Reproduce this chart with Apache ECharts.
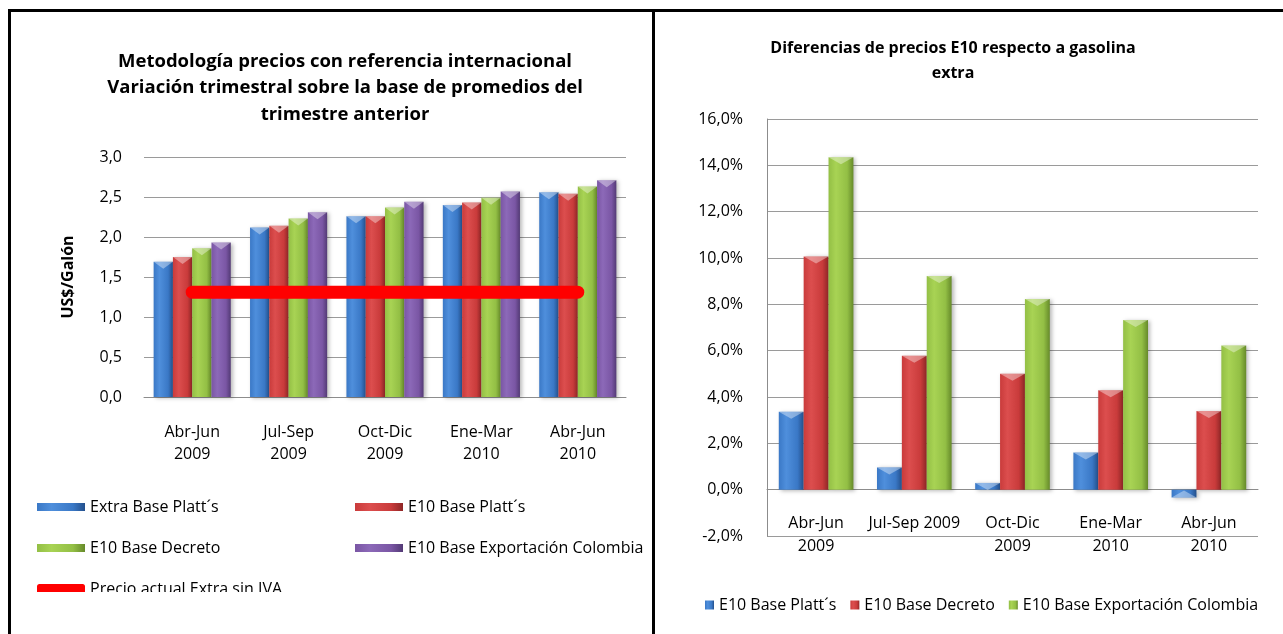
<!DOCTYPE html>
<html>
<head>
<meta charset="utf-8">
<script src="https://cdn.jsdelivr.net/npm/echarts@6/dist/echarts.min.js"></script>
<style>
  html, body { margin: 0; padding: 0; background: #fff; }
  body { width: 1283px; height: 634px; position: relative; overflow: hidden; }
  #precios { position: absolute; left: 0; top: 0; width: 652px; height: 592px; }
  #diferencias { position: absolute; left: 655px; top: 0; width: 628px; height: 634px; }
  .rule { position: absolute; background: #000; }
</style>
</head>
<body>
<div id="precios"></div>
<div id="diferencias"></div>
<div class="rule" style="left:8px;top:9px;width:1275px;height:3px"></div>
<div class="rule" style="left:8px;top:9px;width:3px;height:625px"></div>
<div class="rule" style="left:652px;top:9px;width:3px;height:625px"></div>
<script>
// ---- Precios trimestrales (US$/galón) ----
const trimestres = ['Abr-Jun\n2009', 'Jul-Sep\n2009', 'Oct-Dic\n2009', 'Ene-Mar\n2010', 'Abr-Jun\n2010'];
const extraPlatts = [1.69, 2.12, 2.26, 2.40, 2.56];
const e10Platts = [1.75, 2.14, 2.26, 2.43, 2.54];
const e10Decreto = [1.86, 2.23, 2.37, 2.49, 2.63];
const e10Exportacion = [1.93, 2.31, 2.44, 2.57, 2.71];
const precioActualSinIVA = [1.31, 1.31, 1.31, 1.31, 1.31];
const ticksPrecio = [0, 0.5, 1.0, 1.5, 2.0, 2.5, 3.0];

// ---- Diferencias E10 vs. gasolina extra (%) ----
const trimestresDif = ['Abr-Jun\n2009', 'Jul-Sep 2009', 'Oct-Dic\n2009', 'Ene-Mar\n2010', 'Abr-Jun\n2010'];
const difPlatts = [3.36, 0.96, 0.29, 1.60, -0.34];
const difDecreto = [10.07, 5.78, 5.00, 4.29, 3.40];
const difExportacion = [14.35, 9.22, 8.23, 7.32, 6.22];
const ticksDif = [-2, 0, 2, 4, 6, 8, 10, 12, 14, 16];

const FONT = 'Open Sans';
const coma = (v, d) => v.toFixed(d).replace('.', ',');

// cylinder-like horizontal shading for the bars
function shade(edge, light, dark) {
  return new echarts.graphic.LinearGradient(0, 0, 1, 0, [
    { offset: 0, color: edge },
    { offset: 0.3, color: light },
    { offset: 0.75, color: edge },
    { offset: 1, color: dark }
  ]);
}
const AZUL = shade('#3a78c6', '#4f8fdc', '#24508c');
const ROJO = shade('#c93b3b', '#dc4e4e', '#8e2626');
const VERDE = shade('#93bf45', '#a8d354', '#668a2a');
const MORADO = shade('#7a56a4', '#8c69b8', '#533a75');
const sombra = { shadowColor: 'rgba(0,0,0,0.28)', shadowBlur: 4, shadowOffsetX: 2, shadowOffsetY: 1 };

function barra(name, data, color, gap) {
  return {
    name, type: 'bar', data, barGap: '0%', barCategoryGap: gap,
    itemStyle: Object.assign({ color }, sombra),
    emphasis: { disabled: true }
  };
}
// light bevel chevron on the top of every bar
function bisel(name, data, gap) {
  return {
    name, type: 'pictorialBar', data, barGap: '0%', barCategoryGap: gap,
    symbol: 'path://M0,0 L20,0 L10,7 Z', symbolSize: ['100%', 7], symbolPosition: 'end',
    symbolClip: false, z: 3, silent: true,
    itemStyle: { color: 'rgba(255,255,255,0.38)' },
    emphasis: { disabled: true }
  };
}

const textoLeyenda = { fontFamily: FONT, fontSize: 16, color: '#000', lineHeight: 18 };
function leyenda(name, left, top, extra, alto) {
  return {
    left, top, padding: 0, itemWidth: 48, itemHeight: alto || 8, itemGap: 0,
    textStyle: textoLeyenda,
    data: [Object.assign({ name, icon: 'rect' }, extra || {})]
  };
}

// ---------- Gráfico izquierdo ----------
const precios = echarts.init(document.getElementById('precios'), null, { renderer: 'canvas' });
precios.setOption({
  animation: false,
  textStyle: { fontFamily: FONT },
  title: {
    text: 'Metodología precios con referencia internacional\nVariación trimestral sobre la base de promedios del\ntrimestre anterior',
    left: 340, top: 43, textAlign: 'center',
    textStyle: { fontFamily: FONT, fontSize: 18.5, fontWeight: 'bold', color: '#000', lineHeight: 26.5 }
  },
  grid: { left: 144, top: 157, width: 482, height: 240, containLabel: false },
  xAxis: {
    type: 'category', data: trimestres,
    axisLine: { lineStyle: { color: '#8c8c8c', width: 1 } },
    axisTick: { show: false },
    axisLabel: { fontFamily: FONT, fontSize: 16, color: '#000', lineHeight: 22, margin: 24, interval: 0 }
  },
  yAxis: {
    type: 'value',
    min: ticksPrecio[0], max: ticksPrecio[ticksPrecio.length - 1], interval: ticksPrecio[1] - ticksPrecio[0],
    name: 'US$/Galón', nameLocation: 'middle', nameGap: 68,
    nameTextStyle: { fontFamily: FONT, fontSize: 16, fontWeight: 'bold', color: '#000' },
    axisLine: { show: false }, axisTick: { show: false },
    axisLabel: { fontFamily: FONT, fontSize: 16, color: '#000', margin: 22, formatter: v => coma(v, 1) },
    splitLine: { lineStyle: { color: '#9a9a9a', width: 1 } }
  },
  legend: [
    leyenda('Extra Base Platt´s', 37, 498),
    leyenda('E10 Base Platt´s', 355, 498),
    leyenda('E10 Base Decreto', 37, 539),
    leyenda('E10 Base Exportación Colombia', 355, 539),
    leyenda('Precio actual Extra sin IVA', 37, 580,
      { icon: 'roundRect', itemStyle: { color: '#ff0000' } }, 10)
  ],
  series: [
    barra('Extra Base Platt´s', extraPlatts, AZUL, '20%'),
    barra('E10 Base Platt´s', e10Platts, ROJO, '20%'),
    barra('E10 Base Decreto', e10Decreto, VERDE, '20%'),
    barra('E10 Base Exportación Colombia', e10Exportacion, MORADO, '20%'),
    bisel('Extra Base Platt´s', extraPlatts, '20%'),
    bisel('E10 Base Platt´s', e10Platts, '20%'),
    bisel('E10 Base Decreto', e10Decreto, '20%'),
    bisel('E10 Base Exportación Colombia', e10Exportacion, '20%'),
    {
      name: 'Precio actual Extra sin IVA', type: 'line', data: precioActualSinIVA,
      symbol: 'none', z: 5, silent: true,
      lineStyle: { color: '#ff0000', width: 13, cap: 'round' },
      itemStyle: { color: '#ff0000' },
      emphasis: { disabled: true }
    }
  ]
});

// ---------- Gráfico derecho ----------
const diferencias = echarts.init(document.getElementById('diferencias'), null, { renderer: 'canvas' });
const altoDif = 417;
const rangoDif = ticksDif[ticksDif.length - 1] - ticksDif[0];
diferencias.setOption({
  animation: false,
  textStyle: { fontFamily: FONT },
  title: {
    text: 'Diferencias de precios E10 respecto a gasolina\nextra',
    left: 293, top: 31, textAlign: 'center',
    textStyle: { fontFamily: FONT, fontSize: 16, fontWeight: 'bold', color: '#000', lineHeight: 25 }
  },
  grid: { left: 112, top: 119, width: 491, height: altoDif, containLabel: false },
  xAxis: {
    type: 'category', data: trimestresDif, position: 'bottom',
    // category axis sits on the 0 % line
    offset: -altoDif * (0 - ticksDif[0]) / rangoDif,
    axisLine: { onZero: false, lineStyle: { color: '#8c8c8c', width: 1 } },
    axisTick: { show: false },
    axisLabel: { fontFamily: FONT, fontSize: 16, color: '#000', lineHeight: 23, margin: 22, interval: 0 }
  },
  yAxis: {
    type: 'value',
    min: ticksDif[0], max: ticksDif[ticksDif.length - 1], interval: ticksDif[1] - ticksDif[0],
    axisLine: { show: true, onZero: false, lineStyle: { color: '#8c8c8c', width: 1 } },
    axisTick: { show: false },
    axisLabel: { fontFamily: FONT, fontSize: 16, color: '#000', margin: 24, formatter: v => coma(v, 1) + '%' },
    splitLine: { lineStyle: { color: '#9a9a9a', width: 1 } }
  },
  legend: {
    left: 50, top: 597, padding: 0, itemWidth: 9, itemHeight: 9, itemGap: 14,
    textStyle: { fontFamily: FONT, fontSize: 16, color: '#000' },
    data: [
      { name: 'E10 Base Platt´s', icon: 'rect' },
      { name: 'E10 Base Decreto', icon: 'rect' },
      { name: 'E10 Base Exportación Colombia', icon: 'rect' }
    ]
  },
  series: [
    barra('E10 Base Platt´s', difPlatts, AZUL, '24%'),
    barra('E10 Base Decreto', difDecreto, ROJO, '24%'),
    barra('E10 Base Exportación Colombia', difExportacion, VERDE, '24%'),
    bisel('E10 Base Platt´s', difPlatts, '24%'),
    bisel('E10 Base Decreto', difDecreto, '24%'),
    bisel('E10 Base Exportación Colombia', difExportacion, '24%')
  ]
});
</script>
</body>
</html>
